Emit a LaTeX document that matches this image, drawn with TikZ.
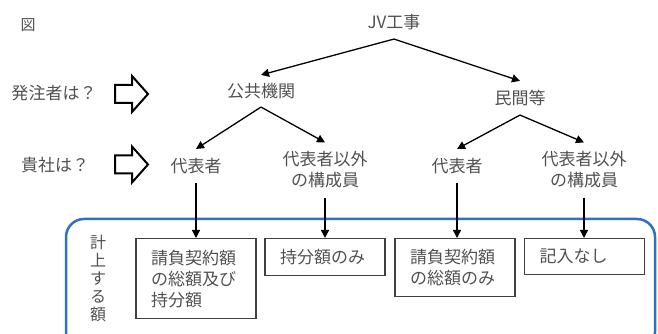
\documentclass[tikz,border=0pt]{standalone}
\usepackage{fontspec}
\setmainfont{Noto Sans CJK JP}
\usepackage{tikz}
\usetikzlibrary{arrows.meta,
	positioning}

\definecolor{frameblue}{RGB}{46,112,196}
\definecolor{txtgray}{RGB}{80,80,80}

\tikzset{
	lbl/.style={inner xsep=2pt, inner ysep=9pt, text=txtgray,
		font=\fontsize{17}{21}\selectfont, align=center},
	amtbox/.style={draw=black!75, line width=1.2pt, anchor=north,
		text width=90pt, inner xsep=15pt, align=left, text=txtgray,
		font=\fontsize{17}{21}\selectfont},
	link/.style={-{Triangle[length=8pt,width=8pt]}, line width=1.3pt},
	fatarrow/.style={line width=2pt, line join=miter}
}

\begin{document}
\begin{tikzpicture}[x=10pt,y=10pt]
        \useasboundingbox (0,0) rectangle (65.8,33.4);

        \node[text=txtgray, font=\fontsize{15}{15}\selectfont] (fig) at(2.8,30.9) {図};

        %tree
        \node[lbl] (jv) at(39.4,31.2) {JV工事};
        \node[lbl, inner ysep=8pt] (pub) at(26.1,24.3) {公共機関};
        \node[lbl] (priv) at(52.0,23.6) {民間等};
        \node[lbl] (rep1) at(19.6,16.8) {代表者};
        \node[lbl] (oth1) at(32.5,16.4) {代表者以外\\の構成員};
        \node[lbl] (rep2) at(45.7,16.8) {代表者};
        \node[lbl] (oth2) at(58.4,16.4) {代表者以外\\の構成員};

        \draw [link] (jv.south)--(pub.north);
        \draw [link] (jv.south)--(priv.north);
        \draw [link] (pub.south)--(rep1.north);
        \draw [link] (pub.south)--(oth1.north);
        \draw [link] (priv.south)--(rep2.north);
        \draw [link] (priv.south)--(oth2.north);

        %questions
        \node[lbl] (q1) at(5.4,24.1) {発注者は？};
        \node[lbl] (q2) at(5.5,16.9) {貴社は？};
        \coordinate (f1) at(11.5,24.0);
        \coordinate (f2) at(11.5,16.95);
        \draw [fatarrow] ([yshift=9pt]f1)--++(1.7,0)--++(0,0.9)--++(1.6,-1.8)--++(-1.6,-1.8)--++(0,0.9)--++(-1.7,0)--cycle;
        \draw [fatarrow] ([yshift=9pt]f2)--++(1.7,0)--++(0,0.9)--++(1.6,-1.8)--++(-1.6,-1.8)--++(0,0.9)--++(-1.7,0)--cycle;

        %amounts
        \draw [frameblue, line width=2.5pt, rounded corners=18pt] (6.6,11.5) rectangle (65.5,-1.6);
        \node[text=txtgray, align=center, font=\fontsize{16}{18}\selectfont] (keijo) at(9.8,5.6) {計\\上\\す\\る\\額};

        \node[amtbox, minimum height=80pt] (amt1) at(19.6,9.6) {請負契約額\\の総額及び\\持分額};
        \node[amtbox, minimum height=37pt] (amt2) at(32.5,9.6) {持分額のみ};
        \node[amtbox, minimum height=58pt] (amt3) at(45.5,9.6) {請負契約額\\の総額のみ};
        \node[amtbox, minimum height=36pt] (amt4) at(58.45,9.6) {記入なし};

        \draw [link] (rep1.south)--(rep1.south |- amt1.north);
        \draw [link] (oth1.south)--(oth1.south |- amt2.north);
        \draw [link] (rep2.south)--(rep2.south |- amt3.north);
        \draw [link] (oth2.south)--(oth2.south |- amt4.north);

    \end{tikzpicture}
\end{document}
